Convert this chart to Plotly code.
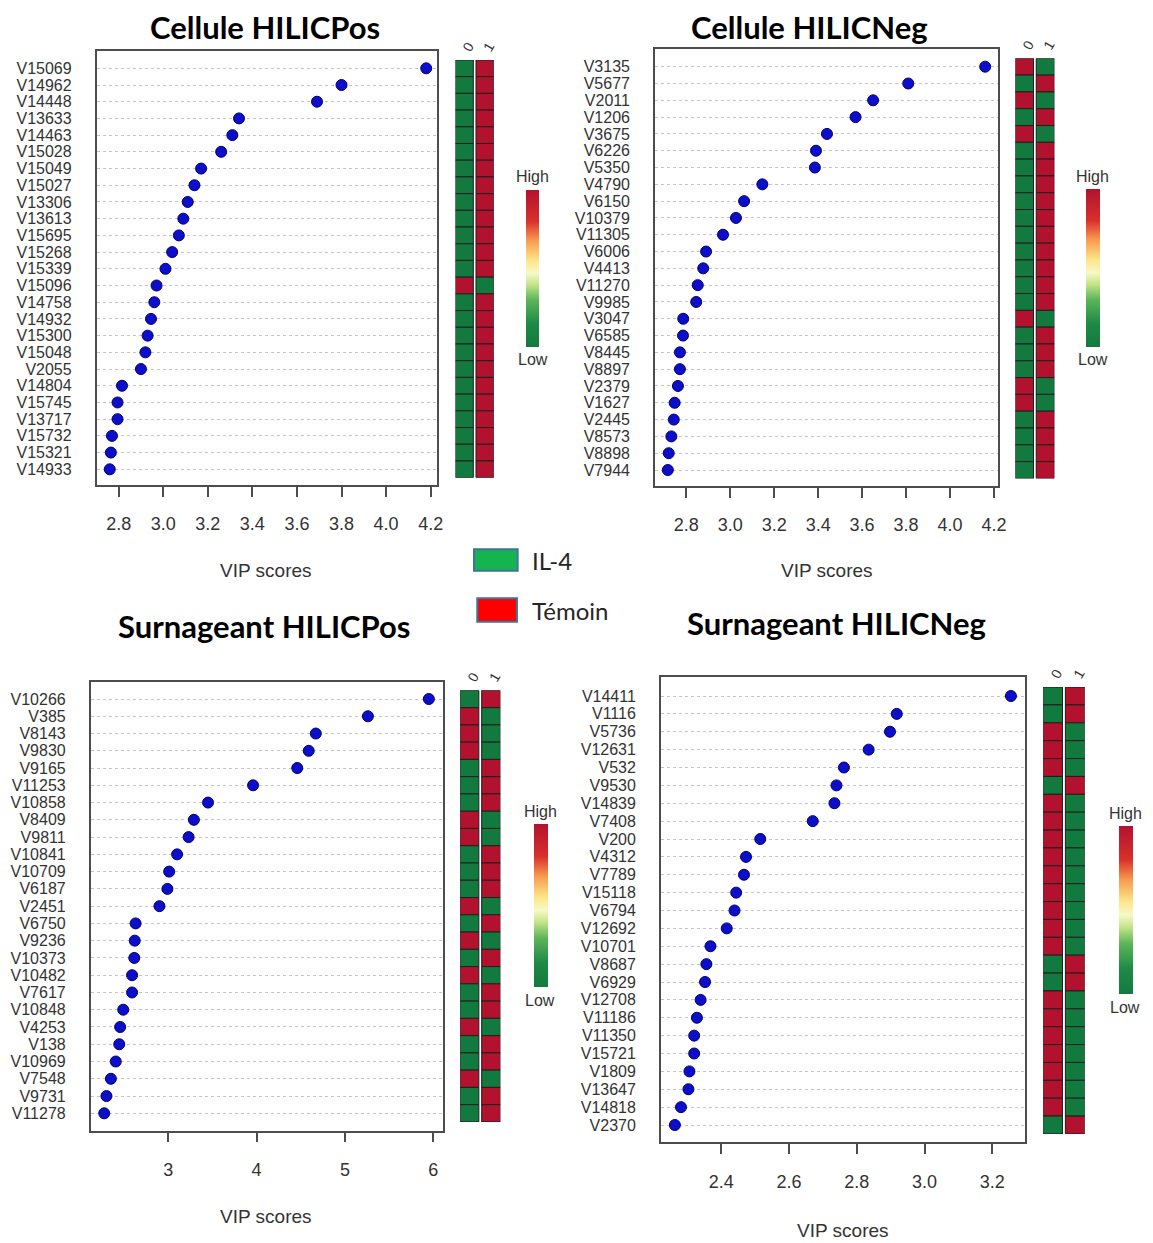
import plotly.graph_objects as go

W, H = 1153, 1243
OFF = 8  # the page body adds an 8 px margin

# ---- data ----
# Cellule HILICPos
cp_labels = ["V15069", "V14962", "V14448", "V13633", "V14463", "V15028", "V15049", "V15027",
             "V13306", "V13613", "V15695", "V15268", "V15339", "V15096", "V14758", "V14932",
             "V15300", "V15048", "V2055", "V14804", "V15745", "V13717", "V15732", "V15321", "V14933"]
cp_vip = [4.18, 3.80, 3.69, 3.34, 3.31, 3.26, 3.17, 3.14, 3.11, 3.09, 3.07, 3.04, 3.01,
          2.97, 2.96, 2.945, 2.93, 2.92, 2.90, 2.815, 2.795, 2.795, 2.77, 2.765, 2.76]
cp_g0 = [0, 0, 0, 0, 0, 0, 0, 0, 0, 0, 0, 0, 0, 1, 0, 0, 0, 0, 0, 0, 0, 0, 0, 0, 0]
cp_g1 = [1, 1, 1, 1, 1, 1, 1, 1, 1, 1, 1, 1, 1, 0, 1, 1, 1, 1, 1, 1, 1, 1, 1, 1, 1]

# Cellule HILICNeg
cn_labels = ["V3135", "V5677", "V2011", "V1206", "V3675", "V6226", "V5350", "V4790", "V6150",
             "V10379", "V11305", "V6006", "V4413", "V11270", "V9985", "V3047", "V6585", "V8445",
             "V8897", "V2379", "V1627", "V2445", "V8573", "V8898", "V7944"]
cn_vip = [4.16, 3.81, 3.65, 3.57, 3.44, 3.39, 3.385, 3.146, 3.063, 3.026, 2.967, 2.89, 2.877,
          2.852, 2.845, 2.786, 2.785, 2.771, 2.771, 2.762, 2.747, 2.743, 2.732, 2.72, 2.716]
cn_g0 = [1, 0, 1, 0, 1, 0, 0, 0, 0, 0, 0, 0, 0, 0, 0, 1, 0, 0, 0, 1, 1, 0, 0, 0, 0]
cn_g1 = [0, 1, 0, 1, 0, 1, 1, 1, 1, 1, 1, 1, 1, 1, 1, 0, 1, 1, 1, 0, 0, 1, 1, 1, 1]

# Surnageant HILICPos
sp_labels = ["V10266", "V385", "V8143", "V9830", "V9165", "V11253", "V10858", "V8409", "V9811",
             "V10841", "V10709", "V6187", "V2451", "V6750", "V9236", "V10373", "V10482", "V7617",
             "V10848", "V4253", "V138", "V10969", "V7548", "V9731", "V11278"]
sp_vip = [5.95, 5.26, 4.67, 4.59, 4.46, 3.96, 3.45, 3.29, 3.23, 3.10, 3.01, 2.99, 2.90,
          2.63, 2.62, 2.615, 2.59, 2.59, 2.49, 2.455, 2.445, 2.405, 2.35, 2.30, 2.275]
sp_g0 = [0, 1, 1, 1, 0, 0, 0, 1, 1, 0, 0, 0, 1, 0, 1, 0, 1, 0, 0, 1, 0, 0, 1, 0, 0]
sp_g1 = [1, 0, 0, 0, 1, 1, 1, 0, 0, 1, 1, 1, 0, 1, 0, 1, 0, 1, 1, 0, 1, 1, 0, 1, 1]

# Surnageant HILICNeg
sn_labels = ["V14411", "V1116", "V5736", "V12631", "V532", "V9530", "V14839", "V7408", "V200",
             "V4312", "V7789", "V15118", "V6794", "V12692", "V10701", "V8687", "V6929", "V12708",
             "V11186", "V11350", "V15721", "V1809", "V13647", "V14818", "V2370"]
sn_vip = [3.255, 2.918, 2.898, 2.835, 2.762, 2.740, 2.734, 2.67, 2.515, 2.473, 2.467, 2.444,
          2.439, 2.416, 2.368, 2.356, 2.352, 2.339, 2.328, 2.32, 2.32, 2.306, 2.303, 2.281, 2.263]
sn_g0 = [0, 0, 1, 1, 1, 0, 1, 1, 1, 1, 1, 1, 1, 1, 1, 0, 0, 1, 1, 1, 1, 1, 1, 1, 0]
sn_g1 = [1, 1, 0, 0, 0, 1, 0, 0, 0, 0, 0, 0, 0, 0, 0, 1, 1, 0, 0, 0, 0, 0, 0, 0, 1]

group_names = ["0", "1"]
legend_names = ["IL-4", "Témoin"]

# ---- style ----
FONT = "Liberation Sans, Arial, sans-serif"
TITLE_FONT = "Lato, Open Sans, sans-serif"
TXT = "#333333"
LINE = "#4d4d4d"
heat_scale = [[0.0, "#127a3e"], [0.15, "#1e8a46"], [0.3, "#5db55a"], [0.4, "#c6e58a"],
              [0.47, "#f6f9c8"], [0.55, "#fde68a"], [0.68, "#f79a4e"], [0.8, "#d9302c"],
              [1.0, "#b2122d"]]

FW, FH = W - OFF, H - OFF


def fx(px):
    return (px - OFF) / FW


def fy(py):
    return 1 - (py - OFF) / FH


def note(text, px, py, size, color=TXT, family=FONT, xanchor="center"):
    return dict(text=text, x=fx(px), y=fy(py), xref="paper", yref="paper",
                xanchor=xanchor, yanchor="middle", showarrow=False,
                font=dict(size=size, color=color, family=family))


panels = [
    dict(title="Cellule HILICPos", labels=cp_labels, vip=cp_vip, g0=cp_g0, g1=cp_g1,
         box=(97.3, 440, 50.7, 485), rows=(68.3, 469.3), xr=(2.701, 4.2266),
         tick0=2.8, dtick=0.2, fmt=".1f", heat=(459, 497.7), cb=(530, 190, 346.7, 13.3),
         hl_x=536.7, title_xy=(267, 27), xt_xy=(268, 570)),
    dict(title="Cellule HILICNeg", labels=cn_labels, vip=cn_vip, g0=cn_g0, g1=cn_g1,
         box=(660, 1005.7, 49.3, 486), rows=(66.7, 470), xr=(2.657, 4.2176),
         tick0=2.8, dtick=0.2, fmt=".1f", heat=(1023.3, 1062.7), cb=(1095, 189, 346.7, 13.7),
         hl_x=1101.5, title_xy=(816, 27), xt_xy=(833, 570)),
    dict(title="Surnageant HILICPos", labels=sp_labels, vip=sp_vip, g0=sp_g0, g1=sp_g1,
         box=(91.3, 446.7, 681.7, 1130.7), rows=(699, 1113.3), xr=(2.121, 6.113),
         tick0=3, dtick=1, fmt="d", heat=(463.7, 504.3), cb=(537.7, 824, 987.3, 14),
         hl_x=544.5, title_xy=(266, 626), xt_xy=(268, 1216)),
    dict(title="Surnageant HILICNeg", labels=sn_labels, vip=sn_vip, g0=sn_g0, g1=sn_g1,
         box=(666, 1032.7, 677.3, 1142.3), rows=(696, 1125), xr=(2.2215, 3.2955),
         tick0=2.4, dtick=0.2, fmt=".1f", heat=(1051.3, 1093.3), cb=(1128.3, 826, 994.3, 14),
         hl_x=1134, title_xy=(843, 623), xt_xy=(850, 1230)),
]

fig = go.Figure()
annotations = []
layout = {}

for i, p in enumerate(panels):
    a, b = 2 * i + 1, 2 * i + 2
    n = len(p["labels"])
    x0, x1, top, bot = p["box"]
    r0, r1 = p["rows"]
    step = (r1 - r0) / (n - 1)
    pad_top = (r0 - top) / step
    pad_bot = (bot - r1) / step

    # dot chart of VIP scores
    fig.add_trace(go.Scatter(
        x=p["vip"], y=p["labels"], mode="markers", xaxis=f"x{a}", yaxis=f"y{a}",
        marker=dict(size=11, color="#0d0dcc", line=dict(color="#00006b", width=1)),
        showlegend=False, hoverinfo="x+y"))

    layout[f"xaxis{a}"] = dict(
        domain=[fx(x0), fx(x1)], anchor=f"y{a}", range=list(p["xr"]),
        tick0=p["tick0"], dtick=p["dtick"], tickformat=p["fmt"],
        showgrid=False, zeroline=False, showline=True, mirror=True,
        linecolor=LINE, linewidth=1.5, ticks="outside", ticklen=10, tickwidth=1.5,
        tickcolor=LINE, ticklabelstandoff=12, tickfont=dict(size=18, color=TXT, family=FONT))
    layout[f"yaxis{a}"] = dict(
        domain=[fy(bot), fy(top)], anchor=f"x{a}", type="category",
        categoryorder="array", categoryarray=p["labels"],
        tickmode="array", tickvals=p["labels"], ticktext=p["labels"],
        range=[n - 1 + pad_bot, -pad_top], showgrid=True, gridcolor="#c4c4c4",
        griddash="dot", gridwidth=1, zeroline=False, showline=True, mirror=True,
        linecolor=LINE, linewidth=1.5, ticks="", ticklabelstandoff=20,
        tickfont=dict(size=16, color=TXT, family=FONT))

    # group columns (0 / 1), one rectangle per row
    for j, vals in enumerate([p["g0"], p["g1"]]):
        fig.add_trace(go.Bar(
            y=p["labels"], x=[1] * n, base=j * 1.15, width=1, orientation="h",
            xaxis=f"x{b}", yaxis=f"y{b}", showlegend=False, hoverinfo="y",
            marker=dict(color=vals, colorscale=heat_scale, cmin=0, cmax=1,
                        line=dict(color="#1f1f1f", width=1),
                        showscale=(j == 0),
                        colorbar=dict(x=fx(p["cb"][0]), xanchor="left",
                                      y=fy(p["cb"][1]), yanchor="top",
                                      len=p["cb"][2] - p["cb"][1], lenmode="pixels",
                                      thickness=p["cb"][3], thicknessmode="pixels",
                                      outlinewidth=0, ticks="", showticklabels=False,
                                      xpad=0, ypad=0))))

    hx0, hx1 = p["heat"]
    layout[f"xaxis{b}"] = dict(
        domain=[fx(hx0), fx(hx1)], anchor=f"y{b}", range=[0, 2.15], side="top",
        tickvals=[0.5, 1.65], ticktext=group_names, tickangle=-60,
        showgrid=False, zeroline=False, showline=False, ticks="",
        tickfont=dict(size=14, color=TXT, family=FONT))
    layout[f"yaxis{b}"] = dict(
        domain=[fy(r1 + step / 2), fy(r0 - step / 2)], anchor=f"x{b}", type="category",
        categoryorder="array", categoryarray=p["labels"], range=[n - 0.5, -0.5],
        showgrid=False, zeroline=False, showline=False, showticklabels=False, ticks="")

    annotations += [
        note("High", p["hl_x"], p["cb"][1] - 13, 16),
        note("Low", p["hl_x"], p["cb"][2] + 13, 16),
        note(f"<b>{p['title']}</b>", p["title_xy"][0], p["title_xy"][1], 31,
             color="#000000", family=TITLE_FONT),
        note("VIP scores", p["xt_xy"][0], p["xt_xy"][1], 19),
    ]

# shared legend in the middle
legend_fill = ["#14b550", "#ff0000"]
legend_box = [(477.7, 521.7, 549.3, 570.7), (481, 521, 598.3, 621.7)]
shapes = []
for name, col, (bx0, bx1, by0, by1) in zip(legend_names, legend_fill, legend_box):
    shapes.append(dict(type="rect", xref="paper", yref="paper",
                       x0=fx(bx0), x1=fx(bx1), y0=fy(by1), y1=fy(by0),
                       fillcolor=col, line=dict(color="#41719c", width=2)))
    annotations.append(note(name, 534, (by0 + by1) / 2, 24, color="#262626",
                            family=TITLE_FONT, xanchor="left"))

fig.update_layout(
    width=FW, height=FH, margin=dict(l=0, r=0, t=0, b=0),
    paper_bgcolor="white", plot_bgcolor="white",
    barmode="overlay", annotations=annotations, shapes=shapes, **layout)

fig.write_html("out.html")
